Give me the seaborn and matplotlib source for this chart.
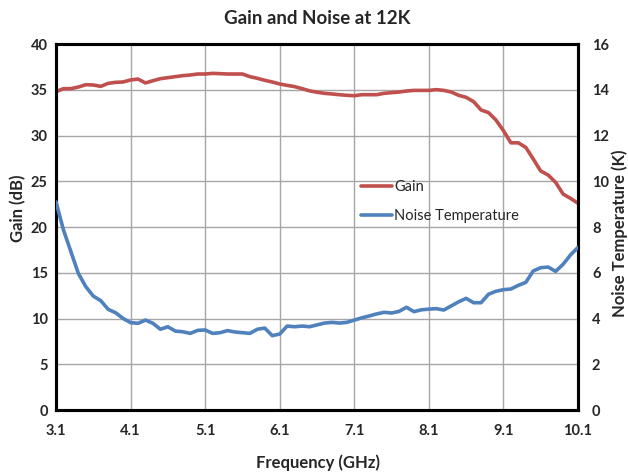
import numpy as np
import pandas as pd
import matplotlib
matplotlib.use("Agg")
import matplotlib.pyplot as plt
import seaborn as sns
from matplotlib.lines import Line2D

# ---- data ----
freq_ghz = [round(3.1 + 0.1 * i, 1) for i in range(71)]
gain_db = [34.79, 35.12, 35.12, 35.30, 35.55, 35.52, 35.37, 35.70, 35.81, 35.85,
           36.07, 36.17, 35.74, 35.99, 36.21, 36.32, 36.43, 36.54, 36.61, 36.72,
           36.72, 36.79, 36.76, 36.72, 36.72, 36.72, 36.43, 36.25, 36.03, 35.85,
           35.63, 35.48, 35.34, 35.12, 34.88, 34.73, 34.61, 34.54, 34.46, 34.39,
           34.35, 34.46, 34.46, 34.46, 34.61, 34.68, 34.75, 34.86, 34.93, 34.93,
           34.93, 35.01, 34.93, 34.75, 34.39, 34.17, 33.70, 32.79, 32.50, 31.69,
           30.53, 29.20, 29.20, 28.70, 27.43, 26.12, 25.68, 24.88, 23.60, 23.13,
           22.59]
noise_k = [9.10, 7.87, 6.92, 5.97, 5.39, 4.98, 4.78, 4.40, 4.25, 4.00,
           3.82, 3.79, 3.93, 3.79, 3.53, 3.64, 3.45, 3.42, 3.35, 3.48,
           3.50, 3.35, 3.38, 3.47, 3.41, 3.38, 3.35, 3.53, 3.58, 3.25,
           3.32, 3.67, 3.64, 3.67, 3.64, 3.72, 3.80, 3.83, 3.80, 3.83,
           3.93, 4.03, 4.11, 4.20, 4.27, 4.24, 4.31, 4.49, 4.30, 4.38,
           4.41, 4.43, 4.37, 4.55, 4.73, 4.88, 4.69, 4.69, 5.06, 5.19,
           5.26, 5.29, 5.45, 5.58, 6.08, 6.22, 6.25, 6.06, 6.37, 6.78,
           7.11]
x_ticks = [3.1, 4.1, 5.1, 6.1, 7.1, 8.1, 9.1, 10.1]
left_ticks = [0, 5, 10, 15, 20, 25, 30, 35, 40]
right_ticks = [0, 2, 4, 6, 8, 10, 12, 14, 16]

df = pd.DataFrame({"freq": freq_ghz, "gain": gain_db, "noise": noise_k})

sns.set_theme(style="white")
plt.rcParams["font.family"] = ["Lato", "DejaVu Sans"]

red = "#C0504D"
blue = "#4F81BD"
grid_c = "#A6A6A6"

W, H = 628, 473
fig = plt.figure(figsize=(W / 100, H / 100), dpi=100)
ax = fig.add_axes([56 / W, 1 - 410 / H, (578 - 56) / W, (410 - 44) / H])
ax2 = ax.twinx()

sns.lineplot(data=df, x="freq", y="gain", ax=ax, color=red, linewidth=2.6, zorder=3)
sns.lineplot(data=df, x="freq", y="noise", ax=ax2, color=blue, linewidth=2.6, zorder=3)

ax.set_xlim(3.1, 10.1)
ax.set_ylim(0, 40)
ax2.set_ylim(0, 16)
ax.set_xticks(x_ticks)
ax.set_xticklabels([f"{t:.1f}" for t in x_ticks])
ax.set_yticks(left_ticks)
ax2.set_yticks(right_ticks)

ax.grid(True, color=grid_c, linewidth=1.0)
ax.set_axisbelow(True)
ax2.grid(False)

for a in (ax, ax2):
    for s in a.spines.values():
        s.set_color("black")
        s.set_linewidth(2.2)
    a.tick_params(length=0, labelsize=10.5)
    for lbl in a.get_xticklabels() + a.get_yticklabels():
        lbl.set_fontweight("bold")

ax.tick_params(axis="x", pad=10)
ax.tick_params(axis="y", pad=6)
ax2.tick_params(axis="y", pad=10)

ax.set_xlabel("")
ax.set_ylabel("")
ax2.set_ylabel("")

fig.text(318 / W, 1 - 463 / H, "Frequency (GHz)", fontsize=12, fontweight="bold",
         ha="center", va="center")
fig.text(18 / W, 1 - 208 / H, "Gain (dB)", fontsize=12, fontweight="bold",
         ha="center", va="center", rotation=90)
fig.text(620 / W, 1 - 233 / H, "Noise Temperature (K)", fontsize=12, fontweight="bold",
         ha="center", va="center", rotation=90)

fig.text((56 + 578) / 2 / W, 1 - 18 / H, "Gain and Noise at 12K",
         fontsize=13.5, fontweight="bold", ha="center", va="center")

handles = [Line2D([0], [0], color=red, linewidth=2.6),
           Line2D([0], [0], color=blue, linewidth=2.6)]
ax2.legend(handles, ["Gain", "Noise Temperature"], loc="upper left",
           bbox_to_anchor=(0.56, 0.664), frameon=False, fontsize=10.5,
           handlelength=2.1, handletextpad=0.15, labelspacing=1.0)

fig.savefig("out.png", dpi=100)
